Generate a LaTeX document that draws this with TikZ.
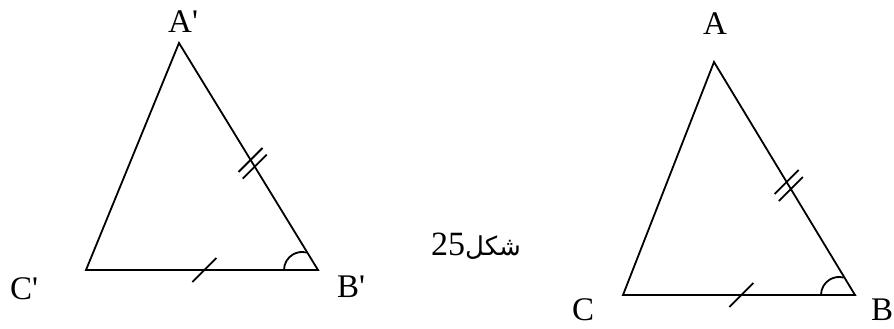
\documentclass[tikz,border=0pt]{standalone}
\usepackage{fontspec}
\setmainfont{Liberation Serif}
\newfontfamily\arabicfont[Script=Arabic]{DejaVu Sans}
\TeXXeTstate=1
\usetikzlibrary{calc}
\begin{document}
\begin{tikzpicture}[x=1pt,y=1pt,
  side/.style={line width=1.8pt, line join=miter},
  tickmark/.style={line width=1.8pt},
  anglemark/.style={line width=1.8pt},
  lbl/.style={font=\fontsize{33}{33}\selectfont, inner sep=0pt, anchor=base west},
  caption/.style={font=\rmfamily\fontsize{34}{34}\selectfont, inner sep=0pt, anchor=base west}]
\useasboundingbox (0,0) rectangle (894,329);
% left triangle
\coordinate (A1) at (179,286);
\coordinate (B1) at (318,59);
\coordinate (C1) at (86,59);
% right triangle
\coordinate (A2) at (714,267);
\coordinate (B2) at (855,34);
\coordinate (C2) at (623,34);
\draw[side] (A1) -- (B1) -- (C1) -- cycle;
\draw[side] (A2) -- (B2) -- (C2) -- cycle;
% double ticks
\foreach \f in {0.515,0.545}{
  \draw[tickmark] ($(A1)!\f!(B1)+(-12,-12)$) -- ($(A1)!\f!(B1)+(12,12)$);
  \draw[tickmark] ($(A2)!\f!(B2)+(-12,-12)$) -- ($(A2)!\f!(B2)+(12,12)$);
}
% single ticks
\draw[tickmark] ($(C1)!0.51!(B1)+(-12,-12)$) -- ($(C1)!0.51!(B1)+(12,12)$);
\draw[tickmark] ($(C2)!0.51!(B2)+(-12,-12)$) -- ($(C2)!0.51!(B2)+(12,12)$);
% angle marks
\draw[anglemark] ($(B1)+(-34,0)$) arc[start angle=180, end angle=75, radius=18];
\draw[anglemark] ($(B2)+(-34,0)$) arc[start angle=180, end angle=75, radius=18];
% labels
\node[lbl] (lA1) at (168,296) {A\textquotesingle};
\node[lbl] (lB1) at (337,31) {B\textquotesingle};
\node[lbl] (lC1) at (10,29) {C\textquotesingle};
\node[lbl] (lA2) at (703,294) {A};
\node[lbl] (lB2) at (871,8) {B};
\node[lbl] (lC2) at (572,8) {C};
\node[caption] (cap) at (431,73) {25{\arabicfont\fontsize{26}{26}\selectfont\beginR شكل\endR}};
\end{tikzpicture}
\end{document}
